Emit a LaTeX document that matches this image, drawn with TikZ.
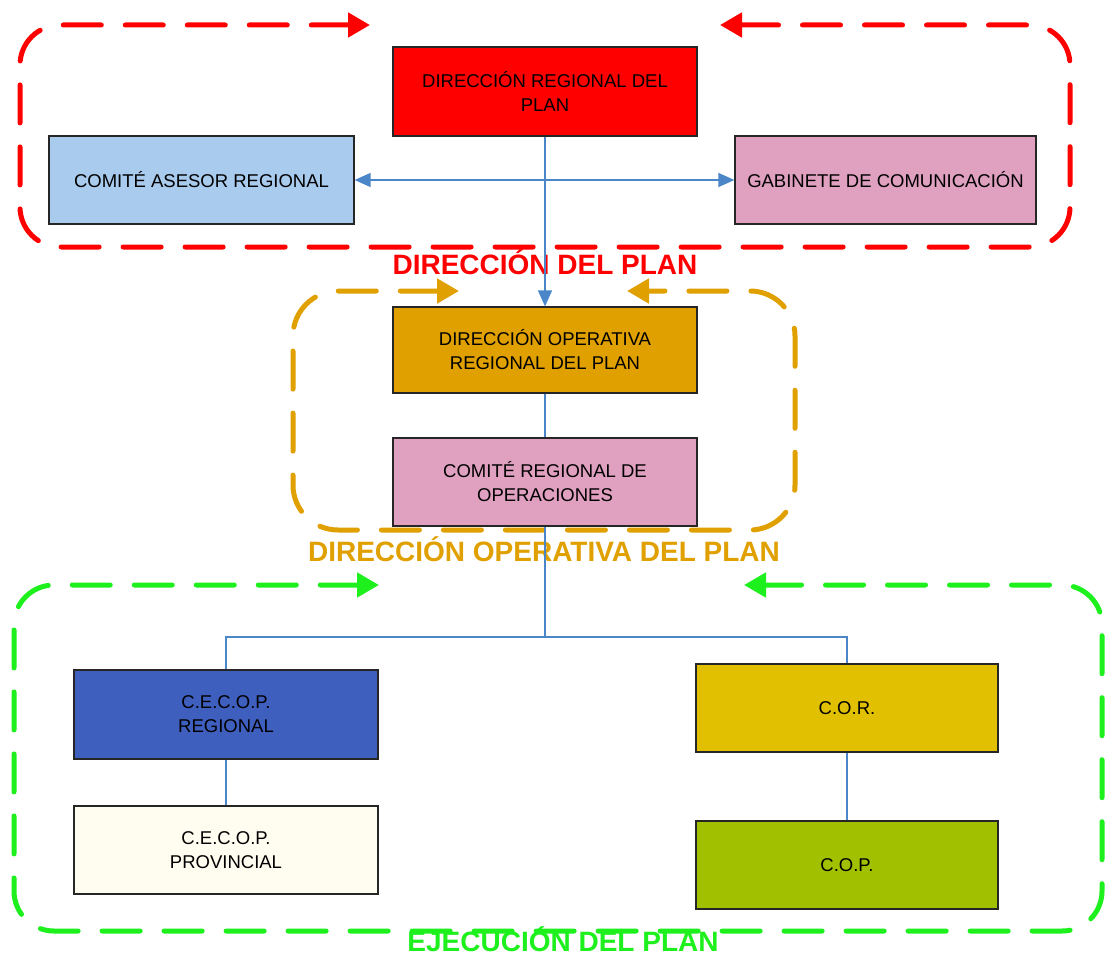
\documentclass[tikz,border=0pt]{standalone}
\usepackage{fontspec}
\setmainfont{Liberation Sans}
\usetikzlibrary{arrows.meta}
\definecolor{cRed}{HTML}{FF0000}
\definecolor{cOrange}{HTML}{E0A000}
\definecolor{cGreen}{HTML}{1EF01E}
\definecolor{cLine}{HTML}{4A86C8}
\definecolor{fAsesor}{HTML}{A8CBEE}
\definecolor{fPink}{HTML}{E0A0C0}
\definecolor{fBlue}{HTML}{3F5FBF}
\definecolor{fCream}{HTML}{FFFCF0}
\definecolor{fCor}{HTML}{E0C000}
\definecolor{fCop}{HTML}{A0C000}
\tikzset{
  orgbox/.style={draw=black!85, line width=1.3pt, rectangle, inner sep=0pt, align=center,
    font=\fontsize{18.5}{24}\selectfont, text=black},
  grouploop/.style={line width=5pt, dash pattern=on 38pt off 24pt, line cap=round,
    rounded corners=40pt, {Triangle[length=22pt,width=24pt]}-{Triangle[length=22pt,width=24pt]}},
  grouplabel/.style={font=\fontsize{28}{32}\selectfont\bfseries, inner sep=0pt},
  link/.style={draw=cLine, line width=1.6pt},
  linkarrow/.style={-{Triangle[length=16pt,width=14pt]}, cLine},
}
\begin{document}
\begin{tikzpicture}[x=1pt,y=-1pt]
\useasboundingbox[fill=white] (0,0) rectangle (1105,958);

% group labels
\node[grouplabel, text=cRed] (lblDir) at (545,262) {DIRECCIÓN DEL PLAN};
\node[grouplabel, text=cOrange] (lblOp) at (544,549) {DIRECCIÓN OPERATIVA DEL PLAN};
\node[grouplabel, text=cGreen] (lblEj) at (563,939) {EJECUCIÓN DEL PLAN};

% dashed loops
\coordinate (rA) at (370,25); \coordinate (rB) at (720,25);
\draw[grouploop, color=cRed] (rA) -- (20,25) -- (20,247) -- (1070,247) -- (1070,25) -- (rB);
\coordinate (oA) at (459,291); \coordinate (oB) at (627,291);
\draw[grouploop, color=cOrange, rounded corners=45pt] (oA) -- (293,291) -- (293,530) -- (795,530) -- (795,291) -- (oB);
\coordinate (gA) at (379,585); \coordinate (gB) at (744,585);
\draw[grouploop, color=cGreen] (gA) -- (14,585) -- (14,931) -- (1102,931) -- (1102,585) -- (gB);

% boxes
\node[orgbox, fill=cRed, minimum width=304pt, minimum height=89pt] (dirreg) at (545,91.5)
  {DIRECCIÓN REGIONAL DEL\\PLAN};
\node[orgbox, fill=fAsesor, minimum width=305pt, minimum height=88pt] (asesor) at (201.5,180)
  {COMITÉ ASESOR REGIONAL};
\node[orgbox, fill=fPink, minimum width=301pt, minimum height=88pt] (gabinete) at (885.5,180)
  {GABINETE DE COMUNICACIÓN};
\node[orgbox, fill=cOrange, minimum width=304pt, minimum height=86pt] (dirop) at (545,350)
  {DIRECCIÓN OPERATIVA\\REGIONAL DEL PLAN};
\node[orgbox, fill=fPink, minimum width=304pt, minimum height=88pt] (comreg) at (545,482)
  {COMITÉ REGIONAL DE\\OPERACIONES};
\node[orgbox, fill=fBlue, minimum width=304pt, minimum height=89pt] (cecopreg) at (226,714.5)
  {C.E.C.O.P.\\REGIONAL};
\node[orgbox, fill=fCream, minimum width=304pt, minimum height=88pt] (cecopprov) at (226,850)
  {C.E.C.O.P.\\PROVINCIAL};
\node[orgbox, fill=fCor, minimum width=302pt, minimum height=88pt] (cor) at (847,708)
  {C.O.R.};
\node[orgbox, fill=fCop, minimum width=302pt, minimum height=88pt] (cop) at (847,865)
  {C.O.P.};

% connectors
\draw[link, {Triangle[length=16pt,width=14pt]}-{Triangle[length=16pt,width=14pt]}] (asesor.east) -- (gabinete.west);
\draw[link, linkarrow] (dirreg.south) -- (dirop.north);
\draw[link] (dirop.south) -- (comreg.north);
\coordinate (junc) at (545,637);
\draw[link] (comreg.south) -- (junc);
\draw[link] (junc) -| (cecopreg.north);
\draw[link] (junc) -| (cor.north);
\draw[link] (cecopreg.south) -- (cecopprov.north);
\draw[link] (cor.south) -- (cop.north);
\end{tikzpicture}
\end{document}
